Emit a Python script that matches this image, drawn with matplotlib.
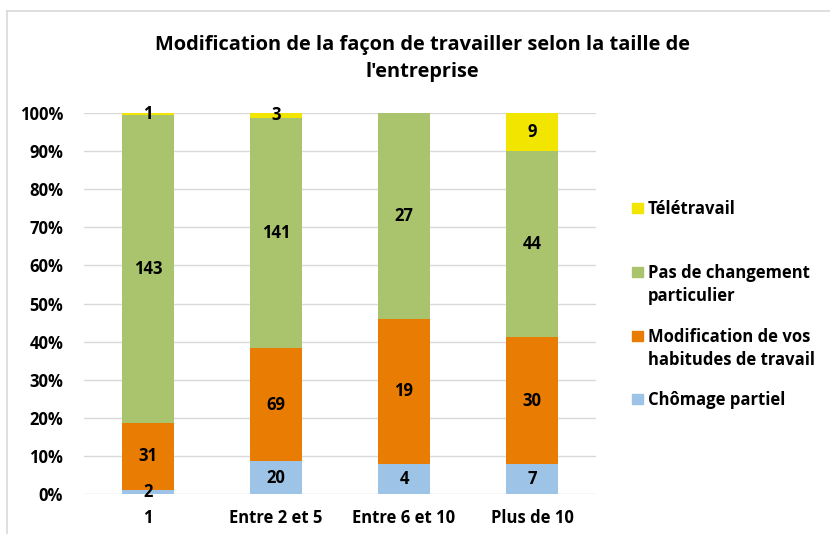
import matplotlib
matplotlib.use("Agg")
import matplotlib.pyplot as plt
from matplotlib.patches import Rectangle
from matplotlib.lines import Line2D
import numpy as np

categories = ["1", "Entre 2 et 5", "Entre 6 et 10", "Plus de 10"]
series_names = ["Chômage partiel", "Modification de vos\nhabitudes de travail",
                "Pas de changement\nparticulier", "Télétravail"]
chomage = [2, 20, 4, 7]
modification = [31, 69, 19, 30]
pas_changement = [143, 141, 27, 44]
teletravail = [1, 3, 0, 9]
colors = ["#9DC3E6", "#E97C02", "#A9C46C", "#F2E600"]
yticks = [0, 10, 20, 30, 40, 50, 60, 70, 80, 90, 100]

plt.rcParams['font.family'] = ['Open Sans', 'DejaVu Sans']
W, H = 830, 534
fig = plt.figure(figsize=(W / 100, H / 100), dpi=100)
FS = 12

# chart border (partial, like the reference)
fig.add_artist(Line2D([6.5 / W, 6.5 / W], [0, 1 - 10.5 / H], transform=fig.transFigure,
                      color="#D9D9D9", lw=1.2))
fig.add_artist(Line2D([6.5 / W, 1], [1 - 10.5 / H, 1 - 10.5 / H], transform=fig.transFigure,
                      color="#D9D9D9", lw=1.2))

ax = fig.add_axes([84 / W, 1 - 494 / H, (596 - 84) / W, (494 - 113) / H])

data = np.array([chomage, modification, pas_changement, teletravail], dtype=float)
totals = data.sum(axis=0)
pct = data / totals
x = np.arange(len(categories))
bottom = np.zeros(len(categories))
for i in range(len(data)):
    ax.bar(x, pct[i], bottom=bottom, width=0.41, color=colors[i], zorder=3)
    for j in range(len(categories)):
        if data[i, j] > 0:
            ax.text(x[j], bottom[j] + pct[i, j] / 2, f"{int(data[i, j])}",
                    ha="center", va="center", fontsize=FS, fontweight="bold", zorder=4)
    bottom += pct[i]

ax.set_xlim(-0.5, len(categories) - 0.5)
ax.set_ylim(0, 1)
ax.set_yticks([t / 100 for t in yticks])
ax.set_yticklabels([f"{t}%" for t in yticks], fontsize=FS, fontweight="bold")
ax.set_xticks(x)
ax.set_xticklabels(categories, fontsize=FS, fontweight="bold")
ax.tick_params(axis="y", length=0, pad=15)
ax.tick_params(axis="x", length=0, pad=11)
ax.grid(axis="y", color="#D9D9D9", lw=1, zorder=0)
for s in ax.spines.values():
    s.set_visible(False)

fig.text(422 / W, 1 - 45 / H, "Modification de la façon de travailler selon la taille de",
         ha="center", va="center", fontsize=14.4, fontweight="bold")
fig.text(422 / W, 1 - 72 / H, "l'entreprise",
         ha="center", va="center", fontsize=14.4, fontweight="bold")

# legend (top to bottom: Télétravail, Pas de changement, Modification, Chômage)
legend_rows = [(3, 208), (2, 272), (1, 336), (0, 399)]
for idx, yc in legend_rows:
    fig.add_artist(Rectangle(((632) / W, 1 - (yc + 5) / H), 11 / W, 10 / H,
                             transform=fig.transFigure, color=colors[idx]))
    for k, line in enumerate(series_names[idx].split("\n")):
        fig.text(648 / W, 1 - (yc + 1 + 23 * k) / H, line, ha="left", va="center",
                 fontsize=FS, fontweight="bold")

fig.savefig("out.png", dpi=100)
